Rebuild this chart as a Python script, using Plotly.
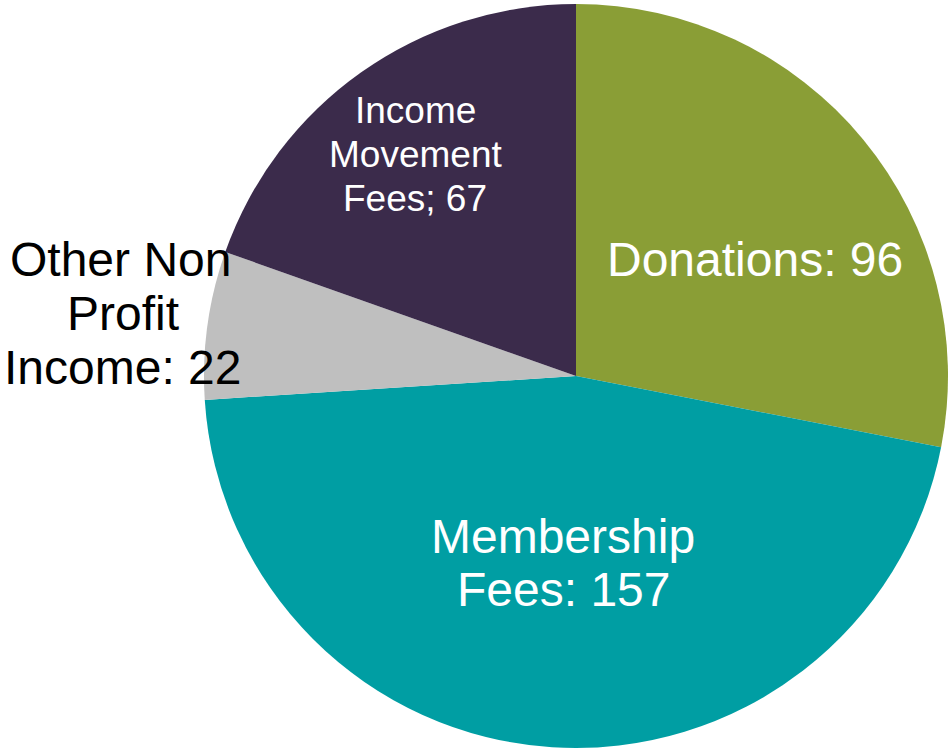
import plotly.graph_objects as go

categories = ["Donations", "Membership Fees", "Other Non Profit Income", "Income Movement Fees"]
values = [96, 157, 22, 67]
colors = ["#8A9E36", "#009EA3", "#BFBFBF", "#3B2B4B"]

W, H = 949, 749

fig = go.Figure(go.Pie(
    labels=categories,
    values=values,
    sort=False,
    direction="clockwise",
    rotation=0,
    marker=dict(colors=colors, line=dict(width=0)),
    textinfo="none",
    hoverinfo="label+value",
    showlegend=False,
    domain=dict(x=[204 / W, 948 / W], y=[1 - 748 / H, 1 - 4 / H]),
))

FONT = "Liberation Sans, Arial, sans-serif"

# label lines: (text, x_px, y_px, size, color)
label_lines = [
    (f"{categories[0]}: {values[0]}", 754.5, 259.5, 48, "white"),
    ("Membership", 563, 536.5, 48, "white"),
    (f"Fees: {values[1]}", 563, 589.5, 48, "white"),
    ("Other Non", 120, 260, 48, "black"),
    ("Profit", 122.5, 314, 48, "black"),
    (f"Income: {values[2]}", 122, 367.5, 48, "black"),
    ("Income", 415, 110.5, 37, "white"),
    ("Movement", 415, 154.5, 37, "white"),
    (f"Fees; {values[3]}", 415, 198.5, 37, "white"),
]

for txt, px, py, size, col in label_lines:
    fig.add_annotation(
        text=txt, x=px / W, y=1 - py / H, xref="paper", yref="paper",
        xanchor="center", yanchor="middle", showarrow=False,
        font=dict(family=FONT, size=size, color=col),
    )

fig.update_layout(
    width=W, height=H,
    margin=dict(l=0, r=0, t=0, b=0),
    paper_bgcolor="white",
    plot_bgcolor="white",
    font=dict(family=FONT),
)

fig.write_html(
    "out.html",
    config={"displayModeBar": False},
    post_script="document.body.style.margin='0';",
)
